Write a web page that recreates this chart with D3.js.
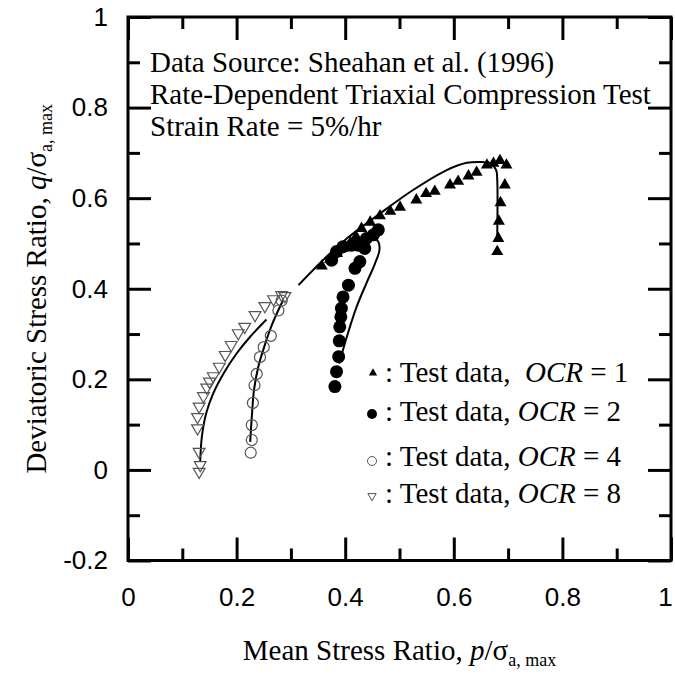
<!DOCTYPE html>
<html>
<head>
<meta charset="utf-8">
<script src="https://cdn.jsdelivr.net/npm/d3@7"></script>
<style>
  body { margin: 0; background: #fff; }
  svg { display: block; }
  .serif { font-family: "Liberation Serif", "Times New Roman", serif; }
  .tick text { font-family: "Liberation Sans", Arial, sans-serif; font-size: 26px; fill: #000; }
</style>
</head>
<body>
<svg class="main"></svg>
<script>
var width = 675,
    height = 681,
    plotL = 128, plotR = 671, plotT = 17, plotB = 560.5;

// test data (p/sigma, q/sigma)
var ocr1P = [0.357, 0.372, 0.385, 0.398, 0.410, 0.420, 0.430, 0.446, 0.464, 0.483, 0.501, 0.531, 0.549, 0.565, 0.593, 0.608, 0.627, 0.642, 0.661, 0.673, 0.685, 0.697, 0.694, 0.686, 0.683, 0.682, 0.680];
var ocr1Q = [0.450, 0.465, 0.478, 0.490, 0.502, 0.515, 0.533, 0.547, 0.561, 0.571, 0.580, 0.596, 0.610, 0.615, 0.629, 0.637, 0.649, 0.657, 0.673, 0.677, 0.683, 0.673, 0.629, 0.590, 0.549, 0.511, 0.482];

var ocr2P = [0.381, 0.384, 0.388, 0.389, 0.390, 0.392, 0.393, 0.396, 0.406, 0.418, 0.427, 0.375, 0.384, 0.396, 0.412, 0.424, 0.436, 0.439, 0.452, 0.461];
var ocr2Q = [0.184, 0.217, 0.250, 0.285, 0.316, 0.338, 0.357, 0.382, 0.408, 0.445, 0.460, 0.463, 0.482, 0.493, 0.496, 0.496, 0.489, 0.511, 0.519, 0.530];

var ocr4P = [0.226, 0.228, 0.228, 0.230, 0.233, 0.237, 0.243, 0.250, 0.263, 0.277, 0.283];
var ocr4Q = [0.038, 0.066, 0.099, 0.148, 0.187, 0.212, 0.249, 0.271, 0.296, 0.352, 0.374];

var ocr8P = [0.131, 0.133, 0.131, 0.128, 0.128, 0.131, 0.139, 0.145, 0.150, 0.157, 0.168, 0.179, 0.190, 0.203, 0.215, 0.234, 0.252, 0.268, 0.283, 0.289];
var ocr8Q = [-0.004, 0.011, 0.040, 0.092, 0.117, 0.140, 0.163, 0.182, 0.195, 0.207, 0.228, 0.254, 0.276, 0.302, 0.316, 0.342, 0.362, 0.377, 0.386, 0.384];

// model curves
var fit1P = [0.314, 0.366, 0.403, 0.464, 0.525, 0.587, 0.624, 0.648, 0.667, 0.678, 0.680, 0.680];
var fit1Q = [0.408, 0.471, 0.511, 0.566, 0.618, 0.662, 0.678, 0.680, 0.677, 0.662, 0.640, 0.515];
var fit2P = [0.389, 0.403, 0.421, 0.439, 0.455, 0.463, 0.461, 0.452, 0.440];
var fit2Q = [0.235, 0.294, 0.360, 0.412, 0.456, 0.485, 0.504, 0.513, 0.515];
var fit4P = [0.225, 0.228, 0.232, 0.240, 0.252, 0.265, 0.277, 0.286];
var fit4Q = [0.062, 0.117, 0.176, 0.228, 0.276, 0.320, 0.353, 0.375];
var fit8P = [0.133, 0.136, 0.144, 0.157, 0.176, 0.200, 0.225, 0.255];
var fit8Q = [0.018, 0.073, 0.125, 0.169, 0.213, 0.257, 0.294, 0.332];

var xMajor = [0, 0.2, 0.4, 0.6, 0.8, 1],
    yMajor = [-0.2, 0, 0.2, 0.4, 0.6, 0.8, 1],
    xMinor = [0.1, 0.3, 0.5, 0.7, 0.9],
    yMinor = [-0.1, 0.1, 0.3, 0.5, 0.7, 0.9];

var infoLines = ["Data Source: Sheahan et al. (1996)",
                 "Rate-Dependent Triaxial Compression Test",
                 "Strain Rate = 5%/hr"];
var legendOcr = ["1", "2", "4", "8"];

var svg = d3.select(".main").attr("width", width).attr("height", height);

var x = d3.scaleLinear().domain([0, 1]).range([plotL, plotR]),
    y = d3.scaleLinear().domain([-0.2, 1]).range([plotB, plotT]);

function zip(a, b) { return a.map(function(v, i) { return [v, b[i]]; }); }
function fmt(d) { return String(+d.toFixed(1)); }

// axes: major with labels, minor without, all ticks pointing in
function drawAxis(axis, tx, ty, labels) {
  var g = svg.append("g").attr("transform", "translate(" + tx + "," + ty + ")").call(axis);
  g.select(".domain").remove();
  g.selectAll(".tick line").attr("stroke", "#000").attr("stroke-width", 3);
  if (!labels) g.selectAll(".tick text").remove();
  return g;
}
var xAxisG = drawAxis(d3.axisBottom(x).tickValues(xMajor).tickSize(-23).tickPadding(27).tickFormat(fmt), 0, plotB, true);
xAxisG.selectAll(".tick text").filter(function(d) { return d === 1; }).attr("dx", -6);
drawAxis(d3.axisBottom(x).tickValues(xMinor).tickSize(-12).tickFormat(""), 0, plotB, false);
drawAxis(d3.axisTop(x).tickValues(xMajor).tickSize(-23).tickFormat(""), 0, plotT, false);
drawAxis(d3.axisTop(x).tickValues(xMinor).tickSize(-12).tickFormat(""), 0, plotT, false);
drawAxis(d3.axisLeft(y).tickValues(yMajor).tickSize(-23).tickPadding(20).tickFormat(fmt), plotL, 0, true);
drawAxis(d3.axisLeft(y).tickValues(yMinor).tickSize(-12).tickFormat(""), plotL, 0, false);
drawAxis(d3.axisRight(y).tickValues(yMajor).tickSize(-23).tickFormat(""), plotR, 0, false);
drawAxis(d3.axisRight(y).tickValues(yMinor).tickSize(-12).tickFormat(""), plotR, 0, false);

svg.append("rect")
  .attr("x", plotL).attr("y", plotT)
  .attr("width", plotR - plotL).attr("height", plotB - plotT)
  .attr("fill", "none").attr("stroke", "#000").attr("stroke-width", 3);

// model lines
var line = d3.line().x(function(d) { return x(d[0]); }).y(function(d) { return y(d[1]); })
  .curve(d3.curveCatmullRom.alpha(0.5));
[[fit1P, fit1Q], [fit2P, fit2Q], [fit4P, fit4Q], [fit8P, fit8Q]].forEach(function(f) {
  svg.append("path").datum(zip(f[0], f[1]))
    .attr("d", line).attr("fill", "none").attr("stroke", "#000").attr("stroke-width", 2);
});

// markers
var triUp = d3.symbol().type(d3.symbolTriangle).size(62)(),
    triDown = d3.symbol().type(d3.symbolTriangle).size(60)();

svg.append("g").selectAll("path").data(zip(ocr8P, ocr8Q)).join("path")
  .attr("d", triDown)
  .attr("transform", function(d) { return "translate(" + x(d[0]) + "," + y(d[1]) + ") rotate(180)"; })
  .attr("fill", "none").attr("stroke", "#555").attr("stroke-width", 1.2);

svg.append("g").selectAll("circle").data(zip(ocr4P, ocr4Q)).join("circle")
  .attr("cx", function(d) { return x(d[0]); }).attr("cy", function(d) { return y(d[1]); })
  .attr("r", 5.5).attr("fill", "none").attr("stroke", "#555").attr("stroke-width", 1.2);

svg.append("g").selectAll("path").data(zip(ocr1P, ocr1Q)).join("path")
  .attr("d", triUp)
  .attr("transform", function(d) { return "translate(" + x(d[0]) + "," + y(d[1]) + ")"; })
  .attr("fill", "#000");

svg.append("g").selectAll("circle").data(zip(ocr2P, ocr2Q)).join("circle")
  .attr("cx", function(d) { return x(d[0]); }).attr("cy", function(d) { return y(d[1]); })
  .attr("r", 6.5).attr("fill", "#000");

// info text
svg.append("g").attr("class", "serif").selectAll("text").data(infoLines).join("text")
  .attr("x", 150).attr("y", function(d, i) { return [72, 104, 136][i]; })
  .attr("font-size", 29).text(function(d) { return d; });

// legend
var legY = [382, 421, 466, 503];
var leg = svg.append("g").attr("class", "serif");
leg.append("path").attr("d", d3.symbol().type(d3.symbolTriangle).size(30)())
  .attr("transform", "translate(373," + (legY[0] - 9) + ")").attr("fill", "#000");
leg.append("circle").attr("cx", 372).attr("cy", legY[1] - 7).attr("r", 5).attr("fill", "#000");
leg.append("circle").attr("cx", 372).attr("cy", legY[2] - 5).attr("r", 4.5)
  .attr("fill", "none").attr("stroke", "#555").attr("stroke-width", 1);
leg.append("path").attr("d", d3.symbol().type(d3.symbolTriangle).size(30)())
  .attr("transform", "translate(372," + (legY[3] - 7) + ") rotate(180)")
  .attr("fill", "none").attr("stroke", "#555").attr("stroke-width", 1);

legendOcr.forEach(function(o, i) {
  var t = leg.append("text").attr("x", 385).attr("y", legY[i]).attr("font-size", 29)
    .style("white-space", "pre");
  t.append("tspan").text(i === 0 ? ": Test data,  " : ": Test data, ");
  t.append("tspan").attr("font-style", "italic").text("OCR");
  t.append("tspan").text(" = " + o);
});

// axis titles
var xt = svg.append("text").attr("class", "serif").attr("font-size", 29)
  .attr("text-anchor", "middle").attr("x", (plotL + plotR) / 2).attr("y", 660);
xt.append("tspan").text("Mean Stress Ratio, ");
xt.append("tspan").attr("font-style", "italic").text("p");
xt.append("tspan").text("/σ");
xt.append("tspan").attr("font-size", 18).attr("dy", 6).text("a, max");

var yt = svg.append("text").attr("class", "serif").attr("font-size", 29)
  .attr("text-anchor", "middle")
  .attr("transform", "translate(46," + ((plotT + plotB) / 2) + ") rotate(-90)");
yt.append("tspan").text("Deviatoric Stress Ratio, ");
yt.append("tspan").attr("font-style", "italic").text("q");
yt.append("tspan").text("/σ");
yt.append("tspan").attr("font-size", 18).attr("dy", 6).text("a, max");
</script>
</body>
</html>
